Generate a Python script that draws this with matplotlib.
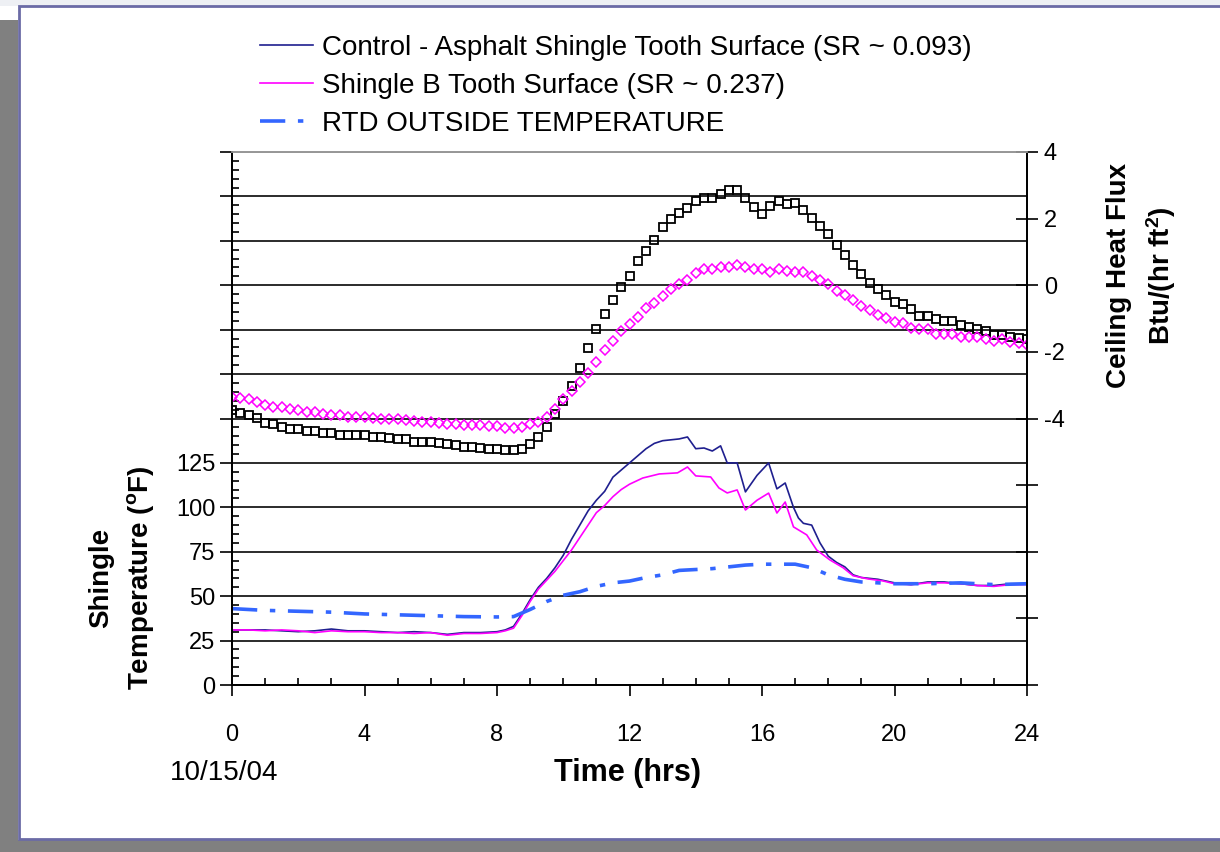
import numpy as np
import matplotlib
matplotlib.use('Agg')
import matplotlib.pyplot as plt
from matplotlib.patches import Rectangle
from matplotlib.ticker import MultipleLocator

plt.rcParams['font.family'] = ['Liberation Sans', 'DejaVu Sans']
plt.rcParams['mathtext.fontset'] = 'custom'
plt.rcParams['mathtext.rm'] = 'Liberation Sans'
plt.rcParams['mathtext.bf'] = 'Liberation Sans:bold'

# ceiling heat flux, every 15 min (Btu/(hr ft2))
t_flux = np.arange(0, 24.01, 0.25)
flux_ctl = [-3.75, -3.84, -3.90, -3.99, -4.14, -4.17, -4.26, -4.32, -4.32, -4.38, -4.38, -4.44,
            -4.44, -4.50, -4.50, -4.50, -4.50, -4.56, -4.56, -4.59, -4.62, -4.62, -4.71, -4.71,
            -4.71, -4.74, -4.77, -4.80, -4.86, -4.86, -4.89, -4.92, -4.92, -4.95, -4.95, -4.92,
            -4.77, -4.56, -4.26, -3.87, -3.48, -3.03, -2.49, -1.89, -1.32, -0.87, -0.45, -0.06,
            0.27, 0.72, 1.02, 1.35, 1.74, 1.98, 2.16, 2.31, 2.52, 2.61, 2.61, 2.73, 2.85, 2.85,
            2.61, 2.34, 2.13, 2.37, 2.52, 2.43, 2.46, 2.25, 2.01, 1.77, 1.53, 1.20, 0.90, 0.60,
            0.33, 0.06, -0.12, -0.30, -0.51, -0.57, -0.72, -0.93, -0.93, -1.02, -1.08, -1.08,
            -1.20, -1.26, -1.32, -1.38, -1.50, -1.50, -1.56, -1.59, -1.62]
flux_b = [-3.36, -3.39, -3.42, -3.51, -3.60, -3.66, -3.66, -3.72, -3.75, -3.81, -3.81, -3.87,
          -3.90, -3.90, -3.96, -3.96, -3.96, -3.99, -4.02, -4.02, -4.02, -4.05, -4.08, -4.11,
          -4.11, -4.14, -4.17, -4.17, -4.20, -4.20, -4.20, -4.23, -4.23, -4.29, -4.29, -4.26,
          -4.17, -4.11, -3.96, -3.72, -3.42, -3.18, -2.91, -2.64, -2.31, -1.95, -1.68, -1.38,
          -1.17, -0.96, -0.69, -0.54, -0.33, -0.12, 0.03, 0.15, 0.36, 0.48, 0.48, 0.54, 0.54,
          0.60, 0.54, 0.48, 0.48, 0.39, 0.48, 0.42, 0.39, 0.39, 0.27, 0.15, 0.03, -0.18, -0.30,
          -0.45, -0.63, -0.75, -0.90, -0.99, -1.11, -1.14, -1.29, -1.32, -1.32, -1.47, -1.47,
          -1.47, -1.56, -1.56, -1.56, -1.62, -1.68, -1.62, -1.71, -1.74, -1.80]

# shingle temperatures (F)
t_ctl = [0, 0.5, 1, 1.5, 2, 2.5, 3, 3.5, 4, 4.5, 5, 5.5, 6, 6.5, 7, 7.5, 8, 8.25, 8.5, 8.75,
         9, 9.25, 9.5, 9.75, 10, 10.25, 10.5, 10.75, 11, 11.25, 11.5, 11.75, 12, 12.25, 12.5,
         12.75, 13, 13.25, 13.5, 13.75, 14, 14.25, 14.5, 14.75, 14.95, 15.25, 15.5, 15.85,
         16.2, 16.45, 16.7, 16.95, 17.1, 17.25, 17.5, 17.75, 18, 18.25, 18.5, 18.75, 19, 19.5,
         20, 20.5, 21, 21.5, 22, 22.5, 23, 23.5, 24]
temp_ctl = [31, 31, 31, 30.5, 30, 30.5, 31.5, 30.5, 30.5, 30, 29.5, 30, 29.5, 28.5, 29.5, 29.5,
            30, 31, 33, 40, 48, 55, 60, 66, 73, 82, 90, 98, 104, 109, 117, 121, 125, 129, 133,
            136, 137.5, 138, 138.5, 139.6, 133, 133.4, 131.7, 134.6, 125, 125, 108.7, 118, 125,
            110.4, 113.7, 100, 94, 91, 90, 80, 72.5, 69, 66.5, 62, 60.5, 59.5, 57.5, 56.5, 58,
            58, 57, 56, 56, 57, 57]
t_b = [0, 0.5, 1, 1.5, 2, 2.5, 3, 3.5, 4, 4.5, 5, 5.5, 6, 6.5, 7, 7.5, 8, 8.25, 8.5, 8.75, 9,
       9.25, 9.5, 9.75, 10, 10.25, 10.5, 10.75, 11, 11.25, 11.5, 11.75, 12, 12.4, 12.9, 13.45,
       13.75, 14, 14.45, 14.7, 14.95, 15.25, 15.5, 15.85, 16.2, 16.45, 16.7, 16.95, 17.35,
       17.65, 18.05, 18.45, 18.75, 19.2, 19.65, 20, 20.5, 21, 21.5, 22, 22.5, 23, 23.5, 24]
temp_b = [31, 31, 30.5, 31, 30.5, 29.5, 30.5, 30, 30, 29.5, 29.5, 29, 29.5, 28, 29, 29, 29.5,
          30.5, 32, 39, 47, 54, 59, 64, 70, 76, 83, 90, 97, 101, 106, 110, 113, 116.5, 118.8,
          119.4, 122.7, 117.7, 117.1, 110.9, 108.1, 109.8, 98.5, 104, 108, 96.8, 103, 89, 84.5,
          76, 70.4, 66, 61.5, 59.7, 58.6, 57, 56.5, 57.5, 57.5, 57, 56, 55.5, 56.5, 56.5]
t_rtd = [0, 1, 2, 3, 4, 5, 6, 7, 8, 8.5, 9, 9.5, 10, 10.5, 11, 11.5, 12, 12.5, 13, 13.5, 14,
         14.5, 15, 15.5, 16, 16.5, 17, 17.5, 18, 18.5, 19, 19.5, 20, 21, 22, 23, 24]
temp_rtd = [43, 42, 41.5, 41, 40, 39.5, 39, 38.5, 38.3, 38.5, 42.5, 47, 50.5, 52.5, 55.5, 57.5,
            58.5, 60.5, 62, 64.5, 65, 65.5, 66.5, 67.5, 68, 68, 68, 66, 62, 59.5, 58, 57.5, 57,
            57, 57.5, 56.5, 57]

W, H = 1220, 852
fig = plt.figure(figsize=(W / 100, H / 100), dpi=100)
fig.patch.set_facecolor('white')

def prect(x0, y0, w, h, **kw):
    # rectangle given in pixels from the top-left corner, kept behind the axes
    fig.patches.append(Rectangle((x0 / W, 1 - (y0 + h) / H), w / W, h / H,
                                 transform=fig.transFigure, zorder=-10, **kw))

# slide background / frame
prect(0, 0, W, 6, facecolor='#eef0f4', edgecolor='none')
prect(0, 20, 18, H - 20, facecolor='#808080', edgecolor='none')
prect(0, 840, W, 12, facecolor='#808080', edgecolor='none')
prect(19, 6, W, 833, facecolor='white', edgecolor='#6b6ba6', lw=2)

ax = fig.add_axes([232 / W, 1 - 685 / H, (1027 - 232) / W, (685 - 152) / H])
ax.patch.set_alpha(0)
ax2 = ax.twinx()

ln1, = ax.plot(t_ctl, temp_ctl, color='#1f1f8f', lw=1.2)
ln2, = ax.plot(t_b, temp_b, color='#ff00ff', lw=1.2)
ln3, = ax.plot(t_rtd, temp_rtd, color='#3366ff', lw=2.6, ls=(0, (7, 3.5, 1.5, 3.5)))

ax2.plot(t_flux, flux_ctl, ls='none', marker='s', ms=5.6, mfc='none', mec='black', mew=1.3)
ax2.plot(t_flux, flux_b, ls='none', marker='D', ms=5, mfc='none', mec='#ff00ff', mew=1.1)

ax.set_xlim(0, 24)
ax.set_ylim(0, 300)
ax2.set_ylim(-12, 4)

yt = np.arange(0, 301, 25)
ax.set_yticks(yt)
ax.set_yticklabels([str(v) if v <= 125 else '' for v in yt])
ax.yaxis.set_minor_locator(MultipleLocator(5))
ax.tick_params(axis='y', which='major', direction='out', length=9, width=1.2, labelsize=17, pad=3)
ax.tick_params(axis='y', which='minor', direction='in', length=5, width=1.2)
ax.grid(axis='y', which='major', color='#1a1a1a', lw=1.3)

ax.set_xticks(range(0, 25, 4))
ax.xaxis.set_minor_locator(MultipleLocator(1))
ax.tick_params(axis='x', which='major', direction='out', length=8, width=1.2, labelsize=17, pad=20)
ax.tick_params(axis='x', which='minor', direction='in', length=5, width=1.2)

ft = np.arange(-12, 5, 2)
ax2.set_yticks(ft)
ax2.set_yticklabels([str(v) if v >= -4 else '' for v in ft])
ax2.tick_params(axis='y', direction='inout', length=16, width=1.2, labelsize=17, pad=4)

for a in (ax, ax2):
    for s in a.spines.values():
        s.set_linewidth(1.3)
        s.set_color('black')
    a.spines['top'].set_color('#999999')

fig.text(122 / W, 1 - 578 / H, 'Shingle\nTemperature ($\\mathbf{^o}$F)', rotation=90,
         ha='center', va='center', fontsize=20, fontweight='bold', multialignment='center',
         linespacing=1.5)
fig.text(1142 / W, 1 - 276 / H, 'Ceiling Heat Flux\nBtu/(hr ft$\\mathbf{^2}$)', rotation=90,
         ha='center', va='center', fontsize=20, fontweight='bold', multialignment='center',
         linespacing=1.5)
fig.text(628 / W, 1 - 773 / H, 'Time (hrs)', ha='center', va='center', fontsize=22, fontweight='bold')
fig.text(224 / W, 1 - 773 / H, '10/15/04', ha='center', va='center', fontsize=20)

fig.legend([ln1, ln2, ln3],
           ['Control - Asphalt Shingle Tooth Surface (SR ~ 0.093)',
            'Shingle B Tooth Surface (SR ~ 0.237)',
            'RTD OUTSIDE TEMPERATURE'],
           loc='upper left', bbox_to_anchor=(260 / W, 1 - 35 / H), frameon=False,
           fontsize=20, handlelength=1.9, handletextpad=0.33, labelspacing=0.43,
           borderpad=0, borderaxespad=0)

fig.savefig('out.png', dpi=100, facecolor=fig.get_facecolor())
